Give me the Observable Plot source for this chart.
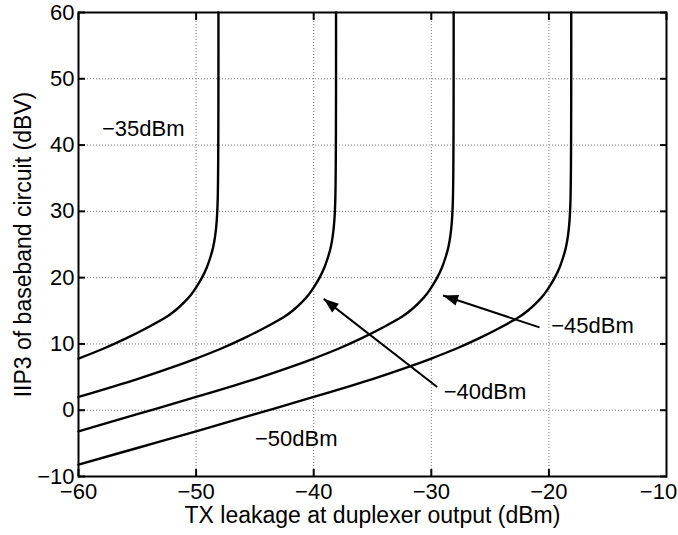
<!DOCTYPE html>
<html><head><meta charset="utf-8">
<script src="https://cdn.jsdelivr.net/npm/d3@7"></script>
<script src="https://cdn.jsdelivr.net/npm/@observablehq/plot@0.6"></script>
<style>body{margin:0;background:#fff}</style>
</head><body><div id="chart"></div>
<script>
// Tick values
const xTicks = [-60, -50, -40, -30, -20, -10];
const yTicks = [-10, 0, 10, 20, 30, 40, 50, 60];

// Curves
const c35X = [-60, -58, -56, -54, -52.5, -51.8, -51.0, -50.4, -49.9, -49.5, -49.1, -48.8, -48.55, -48.38, -48.25, -48.16, -48.1];
const c35Y = [7.8, 9.2, 10.8, 12.6, 14.1, 15.0, 16.3, 17.5, 18.8, 20.0, 21.5, 23.0, 24.6, 26.3, 28.5, 32, 60];

const c40X = [-60, -55, -52, -50, -48, -46, -44, -42.5, -41.8, -41.0, -40.4, -39.9, -39.5, -39.1, -38.8, -38.55, -38.38, -38.25, -38.16, -38.1];
const c40Y = [2.0, 4.7, 6.5, 7.8, 9.2, 10.8, 12.6, 14.1, 15.0, 16.3, 17.5, 18.8, 20.0, 21.5, 23.0, 24.6, 26.3, 28.5, 32, 60];

const c45X = [-60, -55, -50, -45, -42, -40, -38, -36, -34, -32.5, -31.8, -31.0, -30.4, -29.9, -29.5, -29.1, -28.8, -28.55, -28.38, -28.25, -28.16, -28.1];
const c45Y = [-3.2, -0.6, 2.0, 4.7, 6.5, 7.8, 9.2, 10.8, 12.6, 14.1, 15.0, 16.3, 17.5, 18.8, 20.0, 21.5, 23.0, 24.6, 26.3, 28.5, 32, 60];

const c50X = [-60, -55, -50, -45, -40, -35, -32, -30, -28, -26, -24, -22.5, -21.8, -21.0, -20.4, -19.9, -19.5, -19.1, -18.8, -18.55, -18.38, -18.25, -18.16, -18.1];
const c50Y = [-8.2, -5.7, -3.2, -0.6, 2.0, 4.7, 6.5, 7.8, 9.2, 10.8, 12.6, 14.1, 15.0, 16.3, 17.5, 18.8, 20.0, 21.5, 23.0, 24.6, 26.3, 28.5, 32, 60];

// Annotations
const labelText = ["\u221235dBm", "\u221240dBm", "\u221245dBm", "\u221250dBm"];
const labelX = [-58.0, -28.95, -19.8, -45.0];
const labelY = [42.5, 2.8, 12.7, -4.35];

const arrowX1 = [-29.5, -20.8];
const arrowY1 = [3.5, 12.5];
const arrowX2 = [-39.15, -29.0];
const arrowY2 = [16.8, 17.3];

// Build tables
const series = [["a", c35X, c35Y], ["b", c40X, c40Y], ["c", c45X, c45Y], ["d", c50X, c50Y]];
const lineData = series.flatMap(([k, xs, ys]) => xs.map((x, i) => ({k, x, y: ys[i]})));
const labels = labelText.map((t, i) => ({t, x: labelX[i], y: labelY[i]}));
const arrows = arrowX1.map((x1, i) => ({x1, y1: arrowY1[i], x2: arrowX2[i], y2: arrowY2[i]}));

function filledHead(color) {
  const ns = "http://www.w3.org/2000/svg";
  const m = document.createElementNS(ns, "marker");
  m.setAttribute("viewBox", "-15 -5.5 15 11");
  m.setAttribute("markerWidth", "15");
  m.setAttribute("markerHeight", "11");
  m.setAttribute("markerUnits", "userSpaceOnUse");
  m.setAttribute("orient", "auto");
  m.setAttribute("overflow", "visible");
  const p = document.createElementNS(ns, "path");
  p.setAttribute("d", "M-15,-5.5L0,0L-15,5.5Z");
  p.setAttribute("fill", "black");
  p.setAttribute("stroke", "none");
  m.appendChild(p);
  return m;
}

const font = "'Liberation Sans', Arial, Helvetica, sans-serif";
const chart = Plot.plot({
  width: 678,
  height: 535,
  marginLeft: 78,
  marginRight: 12,
  marginTop: 12,
  marginBottom: 59,
  style: {fontFamily: font, fontSize: "22px", background: "white", color: "black", overflow: "visible"},
  x: {domain: [-60, -10], ticks: xTicks, label: null},
  y: {domain: [-10, 60], ticks: yTicks, label: null},
  marks: [
    Plot.gridX(xTicks.slice(1, -1), {stroke: "#777", strokeOpacity: 1, strokeWidth: 1, strokeDasharray: "1,2"}),
    Plot.gridY(yTicks.slice(1, -1), {stroke: "#777", strokeOpacity: 1, strokeWidth: 1, strokeDasharray: "1,2"}),
    Plot.axisX(xTicks.slice(0, -1), {anchor: "bottom", tickSize: -7, tickPadding: 14, fontSize: 22, strokeWidth: 2}),
    Plot.axisX(xTicks.slice(-1), {anchor: "bottom", tickSize: 0, tickPadding: 7, fontSize: 22, dx: -8}),
    Plot.axisX(xTicks, {anchor: "top", tickSize: -7, tickFormat: () => "", strokeWidth: 2}),
    Plot.axisY(yTicks, {anchor: "left", tickSize: -7, tickPadding: 11, fontSize: 22, strokeWidth: 2}),
    Plot.axisY(yTicks, {anchor: "right", tickSize: -7, tickFormat: () => "", strokeWidth: 2}),
    Plot.line(lineData, {x: "x", y: "y", z: "k", stroke: "black", strokeWidth: 2.4, curve: "catmull-rom"}),
    Plot.link(arrows, {x1: "x1", y1: "y1", x2: "x2", y2: "y2", stroke: "black", strokeWidth: 2, markerEnd: filledHead}),
    Plot.text(labels, {x: "x", y: "y", text: "t", textAnchor: "start", fontSize: 22, fill: "black"}),
    Plot.text(["TX leakage at duplexer output (dBm)"], {frameAnchor: "bottom", textAnchor: "middle", dy: 46, fontSize: 23, fill: "black"}),
    Plot.text(["IIP3 of baseband circuit (dBV)"], {frameAnchor: "left", textAnchor: "middle", rotate: -90, dx: -55, fontSize: 23, fill: "black"}),
    Plot.frame({stroke: "black", strokeWidth: 2})
  ]
});
document.getElementById("chart").appendChild(chart);
</script>
</body></html>
